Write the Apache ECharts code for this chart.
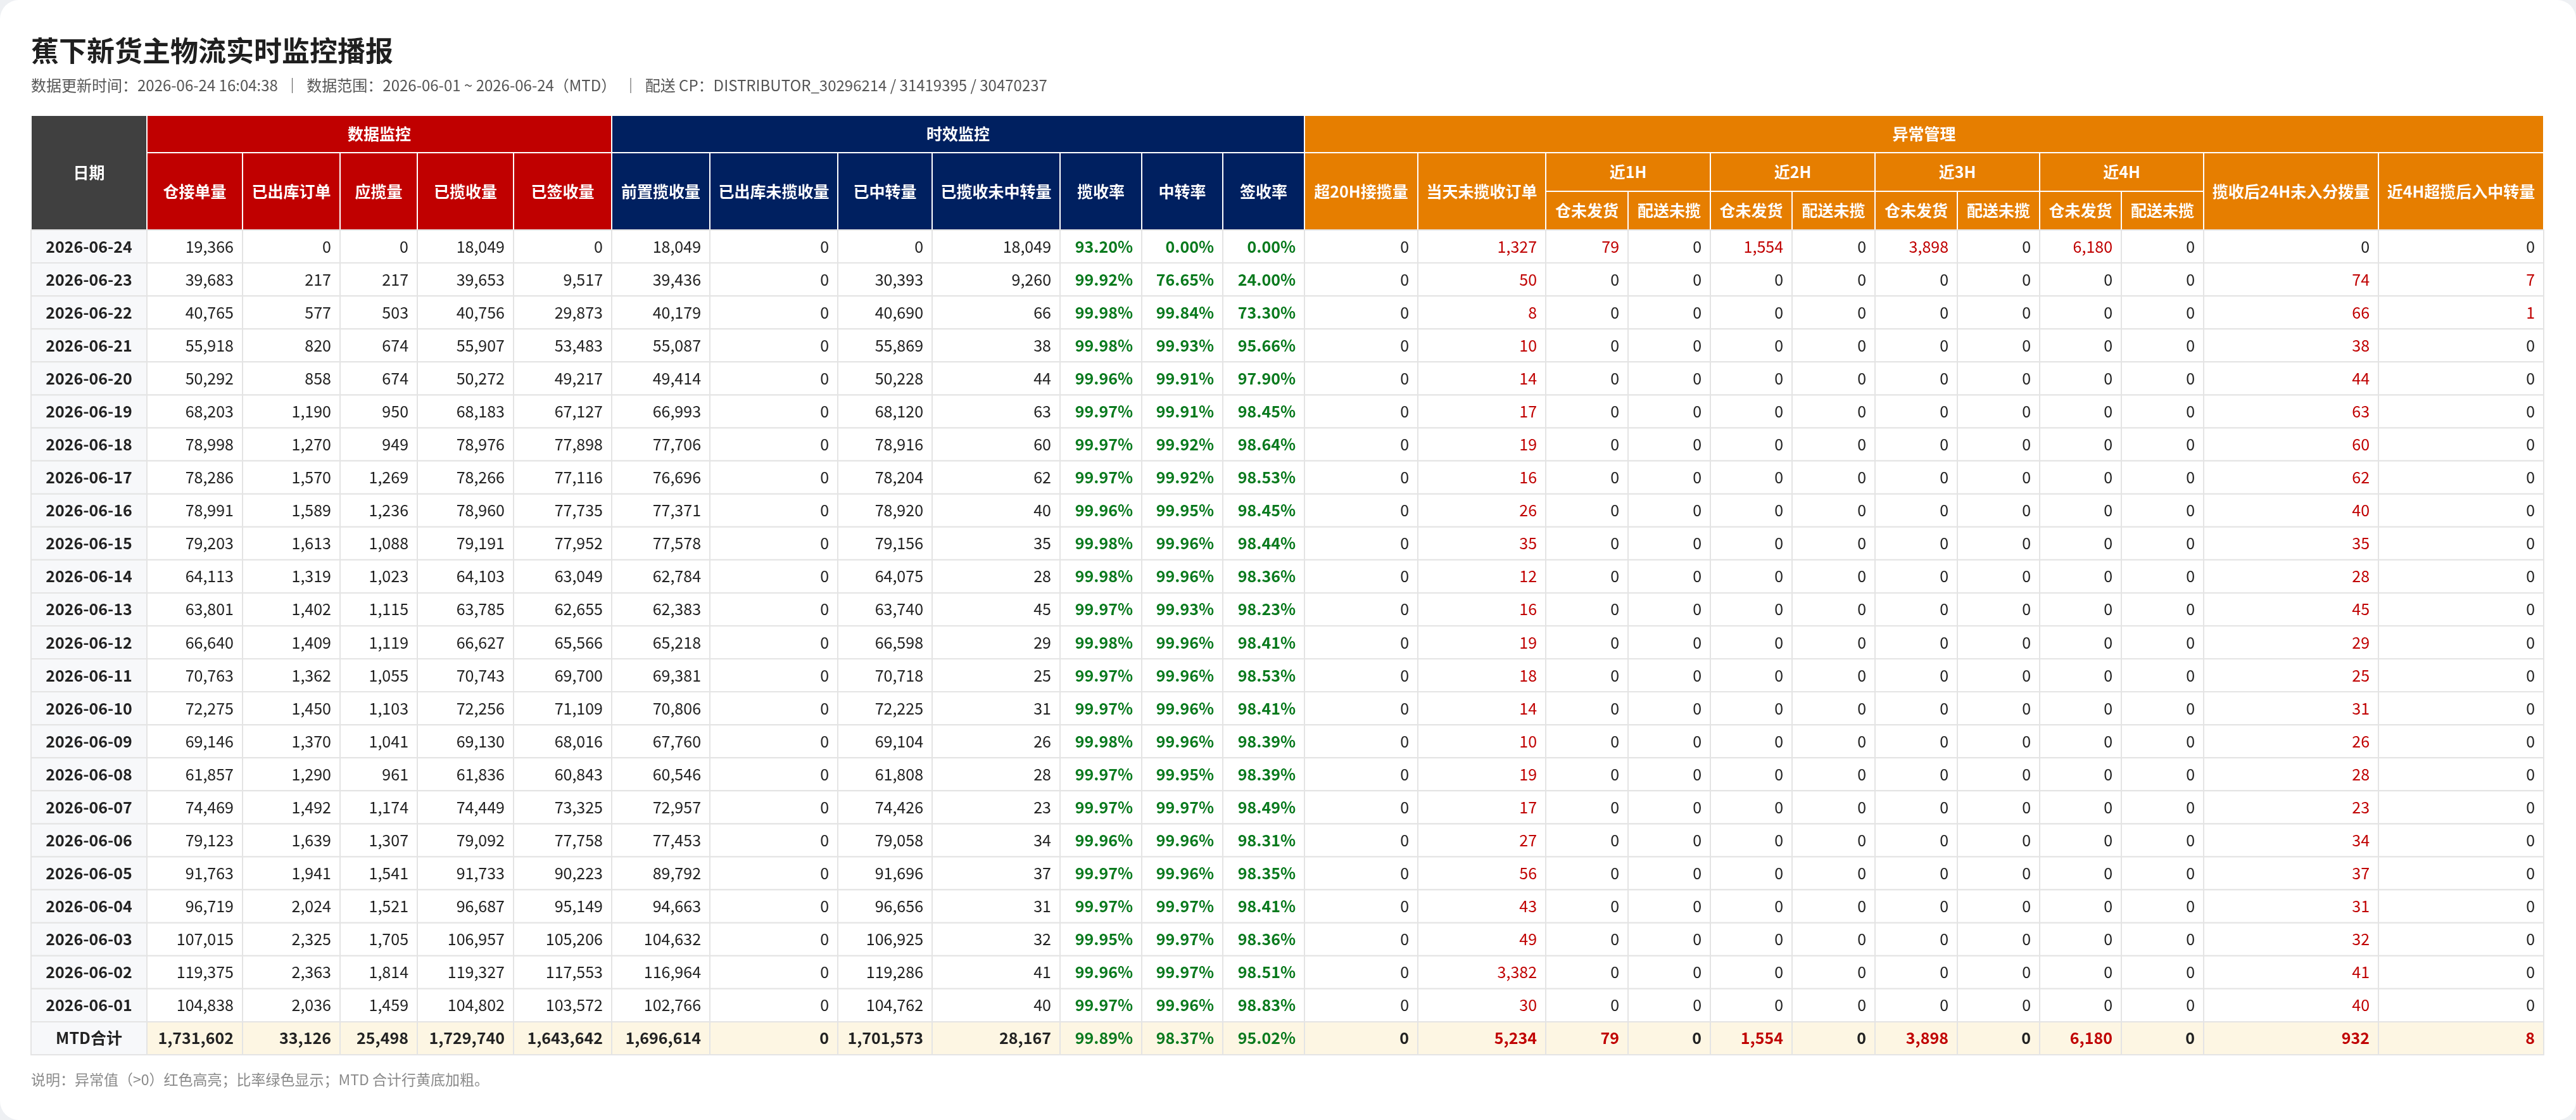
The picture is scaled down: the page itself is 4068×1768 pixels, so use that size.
<!DOCTYPE html>
<html><head><meta charset="utf-8">
<script src="https://cdn.jsdelivr.net/npm/echarts@6/dist/echarts.min.js"></script>
<style>html,body{margin:0;padding:0;background:#eef0f3}#c{width:4068px;height:1768px}</style>
</head><body><div id="c"></div>
<script>
const title = '蕉下新货主物流实时监控播报';
const subtitle = '数据更新时间：2026-06-24 16:04:38  ｜  数据范围：2026-06-01 ~ 2026-06-24（MTD）  ｜  配送 CP：DISTRIBUTOR_30296214 / 31419395 / 30470237';
const footnote = '说明：异常值（>0）红色高亮；比率绿色显示；MTD 合计行黄底加粗。';
const dates = ['2026-06-24','2026-06-23','2026-06-22','2026-06-21','2026-06-20','2026-06-19','2026-06-18','2026-06-17','2026-06-16','2026-06-15','2026-06-14','2026-06-13','2026-06-12','2026-06-11','2026-06-10','2026-06-09','2026-06-08','2026-06-07','2026-06-06','2026-06-05','2026-06-04','2026-06-03','2026-06-02','2026-06-01','MTD合计'];
const whReceived = [19366,39683,40765,55918,50292,68203,78998,78286,78991,79203,64113,63801,66640,70763,72275,69146,61857,74469,79123,91763,96719,107015,119375,104838,1731602];
const shippedOrders = [0,217,577,820,858,1190,1270,1570,1589,1613,1319,1402,1409,1362,1450,1370,1290,1492,1639,1941,2024,2325,2363,2036,33126];
const shouldPick = [0,217,503,674,674,950,949,1269,1236,1088,1023,1115,1119,1055,1103,1041,961,1174,1307,1541,1521,1705,1814,1459,25498];
const picked = [18049,39653,40756,55907,50272,68183,78976,78266,78960,79191,64103,63785,66627,70743,72256,69130,61836,74449,79092,91733,96687,106957,119327,104802,1729740];
const signed = [0,9517,29873,53483,49217,67127,77898,77116,77735,77952,63049,62655,65566,69700,71109,68016,60843,73325,77758,90223,95149,105206,117553,103572,1643642];
const prePicked = [18049,39436,40179,55087,49414,66993,77706,76696,77371,77578,62784,62383,65218,69381,70806,67760,60546,72957,77453,89792,94663,104632,116964,102766,1696614];
const shippedUnpicked = [0,0,0,0,0,0,0,0,0,0,0,0,0,0,0,0,0,0,0,0,0,0,0,0,0];
const transferred = [0,30393,40690,55869,50228,68120,78916,78204,78920,79156,64075,63740,66598,70718,72225,69104,61808,74426,79058,91696,96656,106925,119286,104762,1701573];
const pickedNotTransferred = [18049,9260,66,38,44,63,60,62,40,35,28,45,29,25,31,26,28,23,34,37,31,32,41,40,28167];
const pickRate = ['93.20%','99.92%','99.98%','99.98%','99.96%','99.97%','99.97%','99.97%','99.96%','99.98%','99.98%','99.97%','99.98%','99.97%','99.97%','99.98%','99.97%','99.97%','99.96%','99.97%','99.97%','99.95%','99.96%','99.97%','99.89%'];
const transferRate = ['0.00%','76.65%','99.84%','99.93%','99.91%','99.91%','99.92%','99.92%','99.95%','99.96%','99.96%','99.93%','99.96%','99.96%','99.96%','99.96%','99.95%','99.97%','99.96%','99.96%','99.97%','99.97%','99.97%','99.96%','98.37%'];
const signRate = ['0.00%','24.00%','73.30%','95.66%','97.90%','98.45%','98.64%','98.53%','98.45%','98.44%','98.36%','98.23%','98.41%','98.53%','98.41%','98.39%','98.39%','98.49%','98.31%','98.35%','98.41%','98.36%','98.51%','98.83%','95.02%'];
const over20h = [0,0,0,0,0,0,0,0,0,0,0,0,0,0,0,0,0,0,0,0,0,0,0,0,0];
const todayUnpicked = [1327,50,8,10,14,17,19,16,26,35,12,16,19,18,14,10,19,17,27,56,43,49,3382,30,5234];
const zeros24 = [0,0,0,0,0,0,0,0,0,0,0,0,0,0,0,0,0,0,0,0,0,0,0];
const h1Wh = [79].concat(zeros24,[79]);
const h1Dl = [0].concat(zeros24,[0]);
const h2Wh = [1554].concat(zeros24,[1554]);
const h2Dl = [0].concat(zeros24,[0]);
const h3Wh = [3898].concat(zeros24,[3898]);
const h3Dl = [0].concat(zeros24,[0]);
const h4Wh = [6180].concat(zeros24,[6180]);
const h4Dl = [0].concat(zeros24,[0]);
const after24h = [0,74,66,38,44,63,60,62,40,35,28,45,29,25,31,26,28,23,34,37,31,32,41,40,932];
const near4hLate = [0,7,1,0,0,0,0,0,0,0,0,0,0,0,0,0,0,0,0,0,0,0,0,0,8];

const columns = [
  ['日期', dates, 'date'],
  ['仓接单量', whReceived, 'num'], ['已出库订单', shippedOrders, 'num'], ['应揽量', shouldPick, 'num'], ['已揽收量', picked, 'num'], ['已签收量', signed, 'num'],
  ['前置揽收量', prePicked, 'num'], ['已出库未揽收量', shippedUnpicked, 'num'], ['已中转量', transferred, 'num'], ['已揽收未中转量', pickedNotTransferred, 'num'],
  ['揽收率', pickRate, 'rate'], ['中转率', transferRate, 'rate'], ['签收率', signRate, 'rate'],
  ['超20H接揽量', over20h, 'warn'], ['当天未揽收订单', todayUnpicked, 'warn'],
  ['仓未发货', h1Wh, 'warn'], ['配送未揽', h1Dl, 'warn'], ['仓未发货', h2Wh, 'warn'], ['配送未揽', h2Dl, 'warn'],
  ['仓未发货', h3Wh, 'warn'], ['配送未揽', h3Dl, 'warn'], ['仓未发货', h4Wh, 'warn'], ['配送未揽', h4Dl, 'warn'],
  ['揽收后24H未入分拨量', after24h, 'warn'], ['近4H超揽后入中转量', near4hLate, 'warn']
];
const groups = [['数据监控',1,5,'#c00000'],['时效监控',6,12,'#002060'],['异常管理',13,24,'#e67e00']];
const subGroups = [['近1H',15,16],['近2H',17,18],['近3H',19,20],['近4H',21,22]];

const colW = [183,151,154,122,152,155,155,202,149,202,129,128,129,179,202,130,130,129,131,130,130,129,130,276,261];
const X0 = 49, Y0 = 182, GH = 59, HH = 181, RH = 52.08;
const colX = []; {let x = X0; colW.forEach(w => {colX.push(x); x += w;});}
const FONT = '"Noto Sans CJK SC","Noto Sans",sans-serif';
const fmt = v => typeof v === 'number' ? v.toLocaleString('en-US') : v;

const els = [];
els.push({type:'rect', shape:{x:0,y:0,width:4068,height:1768,r:30}, style:{fill:'#ffffff'}});
function txt(t,x,y,size,color,weight,align){
  els.push({type:'text', x:x, y:y, style:{text:t, x:0, y:0, fill:color, font:(weight||'normal')+' '+size+'px '+FONT, align:align||'left', verticalAlign:'middle', textAlign:align||'left', textVerticalAlign:'middle'}, z:10});
}
function cell(x,y,w,h,fill,stroke){
  els.push({type:'rect', shape:{x:x,y:y,width:w,height:h}, style:{fill:fill, stroke:stroke, lineWidth:2}, z:1});
}
txt(title, 49, 80, 44, '#1f1f1f', 'bold');
txt(subtitle, 49, 135, 24, '#555555');
txt(footnote, 49, 1704, 23, '#8a8a8a');

cell(colX[0], Y0, colW[0], HH, '#404040', '#ffffff');
txt('日期', colX[0]+colW[0]/2, Y0+HH/2, 25, '#fff', 'bold', 'center');
groups.forEach(g => {
  const x = colX[g[1]], w = colX[g[2]] + colW[g[2]] - x;
  cell(x, Y0, w, GH, g[3], '#ffffff');
  txt(g[0], x+w/2, Y0+GH/2, 25, '#fff', 'bold', 'center');
});
const colGroupColor = i => groups.find(g => i>=g[1] && i<=g[2])[3];
const inSub = i => subGroups.find(s => i>=s[1] && i<=s[2]);
subGroups.forEach(s => {
  const x = colX[s[1]], w = colX[s[2]] + colW[s[2]] - x;
  cell(x, Y0+GH, w, (HH-GH)/2, '#e67e00', '#ffffff');
  txt(s[0], x+w/2, Y0+GH+(HH-GH)/4, 25, '#fff', 'bold', 'center');
});
for (let i=1;i<columns.length;i++){
  const sub = inSub(i);
  const y = sub ? Y0+GH+(HH-GH)/2 : Y0+GH;
  const h = sub ? (HH-GH)/2 : HH-GH;
  cell(colX[i], y, colW[i], h, colGroupColor(i), '#ffffff');
  txt(columns[i][0], colX[i]+colW[i]/2, y+h/2, 25, '#fff', 'bold', 'center');
}
const bodyTop = Y0+HH;
for (let r=0;r<dates.length;r++){
  const mtd = r === dates.length-1;
  const y = bodyTop + r*RH;
  for (let i=0;i<columns.length;i++){
    const data = columns[i][1], kind = columns[i][2];
    const v = data[r];
    let fill = mtd ? '#fdf6e3' : '#ffffff';
    if (i===0) fill = '#f7f8fa';
    cell(colX[i], y, colW[i], RH, fill, '#e4e4e4');
    let color = '#222222', weight = mtd ? 'bold' : 'normal';
    if (kind==='date'){ txt(v, colX[i]+colW[i]/2, y+RH/2, 25, '#222', 'bold', 'center'); continue; }
    if (kind==='rate'){ color = '#0a7a1e'; weight = 'bold'; }
    if (kind==='warn' && v>0){ color = '#c00000'; }
    txt(fmt(v), colX[i]+colW[i]-14, y+RH/2, 25, color, weight, 'right');
  }
}
const chart = echarts.init(document.getElementById('c'), null, {renderer:'canvas'});
chart.setOption({animation:false, graphic:{elements:els}});
</script></body></html>
